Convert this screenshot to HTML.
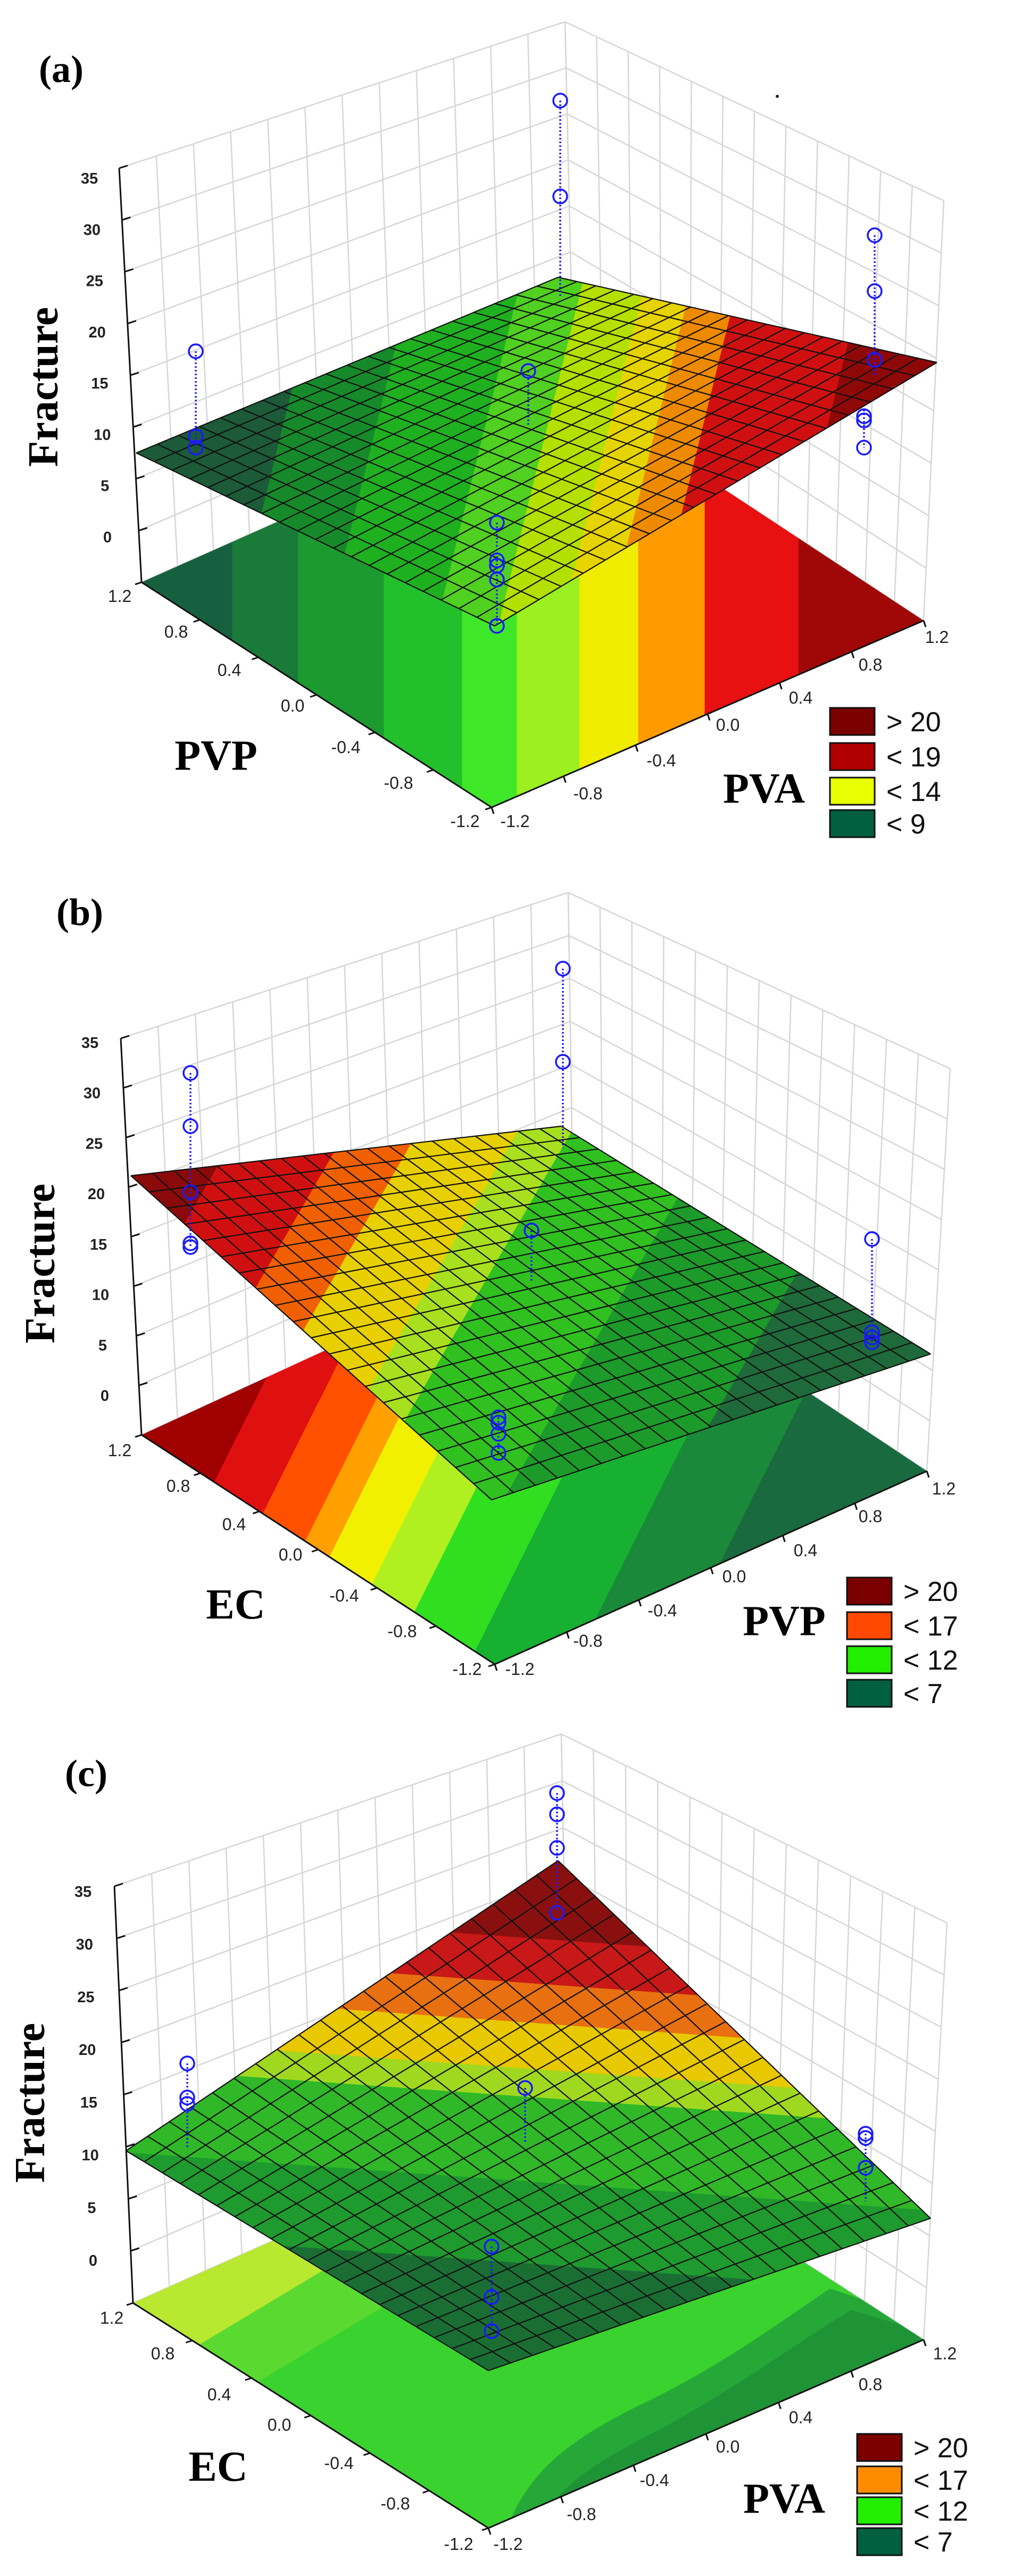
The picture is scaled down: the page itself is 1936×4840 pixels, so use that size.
<!DOCTYPE html>
<html><head><meta charset="utf-8">
<style>
html,body{margin:0;padding:0;background:#fff;}
svg{display:block;}
</style></head>
<body>
<svg id="s" width="1936" height="4840" xmlns="http://www.w3.org/2000/svg" font-family="Liberation Sans, sans-serif">
<rect width="1936" height="4840" fill="#fff"/>
</svg>
<script>
function L(a,b,t){return [a[0]+(b[0]-a[0])*t,a[1]+(b[1]-a[1])*t];}
var out=[];var gid=0;
function line(a,b,st){out.push('<line x1="'+a[0].toFixed(1)+'" y1="'+a[1].toFixed(1)+'" x2="'+b[0].toFixed(1)+'" y2="'+b[1].toFixed(1)+'" '+st+'/>');}
function poly(pts,fill,extra){out.push('<polygon points="'+pts.map(function(p){return p[0].toFixed(1)+','+p[1].toFixed(1);}).join(' ')+'" fill="'+fill+'" '+(extra||'')+'/>');}
function grad(p0,p1,bands){var id='g'+(gid++);var s='<linearGradient id="'+id+'" gradientUnits="userSpaceOnUse" x1="'+p0[0]+'" y1="'+p0[1]+'" x2="'+p1[0]+'" y2="'+p1[1]+'">';
bands.forEach(function(b){s+='<stop offset="'+b[0]+'" stop-color="'+b[2]+'"/><stop offset="'+b[1]+'" stop-color="'+b[2]+'"/>';});
s+='</linearGradient>';out.push(s);return 'url(#'+id+')';}
function text(x,y,t,sz,extra){out.push('<text x="'+x+'" y="'+y+'" font-size="'+sz+'" '+(extra||'')+'>'+t+'</text>');}

function panel(c){
 var Fl=c.L,Ff=c.F,Fr=c.R,Fb=[c.L[0]+c.R[0]-c.F[0],c.L[1]+c.R[1]-c.F[1]-10];
 var TL=c.TL,TB=c.TB,TR=c.TR;
 var gs='stroke="#d6d6d6" stroke-width="2.5"';
 for(var i=0;i<=12;i++){line(L(Fl,Fb,i/12),L(TL,TB,i/12),gs);}
 for(var k=0;k<=8;k++){line(L(Fl,TL,k/8),L(Fb,TB,k/8),gs);}
 for(var i=0;i<=12;i++){line(L(Fb,Fr,i/12),L(TB,TR,i/12),gs);}
 for(var k=0;k<=8;k++){line(L(Fb,TB,k/8),L(Fr,TR,k/8),gs);}
 out.push('<clipPath id="fc'+gid+'"><polygon points="'+[Fl,Ff,Fr,Fb].map(function(p){return p.join(',');}).join(' ')+'"/></clipPath>');
 var cid='fc'+gid;
 poly([Fl,Ff,Fr,Fb],c.floorFill);
 if(c.floorExtra){out.push('<g clip-path="url(#'+cid+')">');c.floorExtra();out.push('</g>');}
 line(Fl,TL,'stroke="#111" stroke-width="3"');
 for(var k=1;k<=8;k++){var p=L(Fl,TL,k/8);line(p,[p[0]+16,p[1]-5],'stroke="#111" stroke-width="3"');}
 line(Fl,Ff,'stroke="#111" stroke-width="3"');line(Ff,Fr,'stroke="#111" stroke-width="3"');
 for(var i=0;i<=6;i++){var p=L(Fl,Ff,i/6);line(p,[p[0]-12,p[1]+4],'stroke="#111" stroke-width="3"');
   var q=L(Ff,Fr,i/6);line(q,[q[0]+4,q[1]+12],'stroke="#111" stroke-width="3"');}
 var zl=['35','30','25','20','15','10','5','0'];
 for(var k=0;k<8;k++){var p=L(c.z35,c.z0,k/7);text(p[0],p[1]+10,zl[k],29,'text-anchor="middle" font-weight="bold" fill="#222"');}
 var S=c.S;
 poly([S[0],S[1],S[2],S[3]],c.surfFill);
 var n=20,ls='stroke="#111" stroke-width="2.2"';
 for(var i=0;i<=n;i++){line(L(S[0],S[3],i/n),L(S[1],S[2],i/n),ls);line(L(S[0],S[1],i/n),L(S[3],S[2],i/n),ls);}
 c.pts.forEach(function(col){
   var x=col[0],ys=col[1],ly=col[2];
   line([x,ly[0]],[x,ly[1]],'stroke="#1a1aff" stroke-width="3.5" stroke-dasharray="3,4"');
   ys.forEach(function(y){out.push('<ellipse cx="'+x+'" cy="'+y+'" rx="13" ry="13" fill="none" stroke="#1a1aff" stroke-width="3.5"/>');});
 });
 var vals=['1.2','0.8','0.4','0.0','-0.4','-0.8','-1.2'];
 c.lt.forEach(function(p,i){text(p[0],p[1]+11,vals[i],32,'text-anchor="middle" fill="#222"');});
 c.rt.forEach(function(p,i){text(p[0],p[1]+11,vals[6-i],32,'text-anchor="middle" fill="#222"');});
 text(c.lab[0],c.lab[1]+24,c.lab[2],72,'text-anchor="middle" font-family="Liberation Serif, serif" font-weight="bold"');
 text(c.t1[0],c.t1[1]+27,c.t1[2],80,'text-anchor="middle" font-family="Liberation Serif, serif" font-weight="bold"');
 text(c.t2[0],c.t2[1]+27,c.t2[2],80,'text-anchor="middle" font-family="Liberation Serif, serif" font-weight="bold"');
 out.push('<text transform="translate('+(c.fr[0]+27)+','+c.fr[1]+') rotate(-90)" font-size="80" text-anchor="middle" font-family="Liberation Serif, serif" font-weight="bold">Fracture</text>');
 c.leg.forEach(function(r){out.push('<rect x="'+c.legx+'" y="'+r[0]+'" width="84" height="51" fill="'+r[1]+'" stroke="#111" stroke-width="3"/>');
   text(c.legx+106,r[0]+44,r[2],52,'fill="#111"');});
}

panel({L:[266,1094],F:[924,1517],R:[1736,1166],TL:[224,316],TB:[1062,41],TR:[1774,377],
 z35:[168,335],z0:[202,1009],
 floorFill:grad([266,1130],[1736,1130],[[0,0.116,'#17603f'],[0.116,0.2,'#1a7a38'],[0.2,0.31,'#1c9a30'],[0.31,0.41,'#22c02a'],[0.41,0.48,'#3ee828'],[0.48,0.56,'#9cf020'],[0.56,0.635,'#f0ec00'],[0.635,0.72,'#ff9a00'],[0.72,0.84,'#e81010'],[0.84,1,'#a00808']]),
 S:[[256,851],[1049,521],[1761,681],[930,1176]],
 surfFill:grad([256,851],[1635,1190],[[0,0.18,'#1c5a38'],[0.18,0.30,'#168a2a'],[0.30,0.44,'#1fb020'],[0.44,0.52,'#50d020'],[0.52,0.60,'#b4e000'],[0.60,0.66,'#e6d400'],[0.66,0.72,'#ee8a00'],[0.72,0.88,'#d01010'],[0.88,1,'#8e0808']]),
 pts:[[368,[660,820,841],[660,841]],[1053,[189,369],[189,557]],[1644,[442,547,676],[442,706]],[1624,[782,790,841],[770,841]],[993,[697],[697,800]],[934,[982,1053,1063,1089,1176],[982,1176]]],
 lt:[[225,1120],[331,1187],[431,1259],[550,1326],[650,1404],[749,1471],[874,1543]],
 rt:[[968,1543],[1105,1491],[1243,1429],[1368,1362],[1505,1311],[1636,1249],[1761,1197]],
 lab:[115,130,'(a)'],t1:[406,1419,'PVP'],t2:[1436,1481,'PVA'],fr:[81,727],
 legx:1560,leg:[[1330,'#7a0000','&gt; 20'],[1396,'#b00000','&lt; 19'],[1461,'#e8ff00','&lt; 14'],[1522,'#006040','&lt; 9']]
});
panel({L:[266,2696],F:[930,3127],R:[1742,2764],TL:[227,1951],TB:[1068,1677],TR:[1786,2008],
 z35:[169,1959],z0:[197,2622],
 floorFill:grad([266,2696],[1473,3300],[[0,0.12,'#a00000'],[0.12,0.2,'#e01010'],[0.2,0.27,'#ff5000'],[0.27,0.31,'#ffa000'],[0.31,0.38,'#f0f000'],[0.38,0.45,'#b0f020'],[0.45,0.55,'#30e020'],[0.55,0.68,'#18b030'],[0.68,0.8,'#1a8a3a'],[0.8,1,'#1a6a40']]),
 S:[[246,2209],[1055,2116],[1749,2544],[924,2818]],
 surfFill:grad([246,2209],[1518,2944],[[0,0.09,'#8a0a0a'],[0.09,0.21,'#d01010'],[0.21,0.29,'#f06000'],[0.29,0.40,'#e8d000'],[0.40,0.46,'#a8e020'],[0.46,0.62,'#30c020'],[0.62,0.8,'#1c9a2a'],[0.8,1,'#1f6a3a']]),
 pts:[[358,[2016,2116,2240,2336,2343],[2016,2343]],[1058,[1820,1995],[1820,2157]],[999,[2312],[2312,2410]],[1639,[2328,2503,2513,2522],[2328,2522]],[937,[2663,2673,2694,2730],[2663,2730]]],
 lt:[[225,2725],[335,2792],[440,2864],[546,2921],[647,2998],[756,3065],[878,3136]],
 rt:[[977,3136],[1105,3083],[1245,3026],[1380,2962],[1514,2913],[1636,2849],[1774,2797]],
 lab:[150,1714,'(b)'],t1:[443,3014,'EC'],t2:[1474,3045,'PVP'],fr:[75,2374],
 legx:1592,leg:[[2964,'#7a0000','&gt; 20'],[3029,'#ff4800','&lt; 17'],[3093,'#22ee00','&lt; 12'],[3156,'#006040','&lt; 7']]
});
panel({L:[250,4327],F:[918,4750],R:[1736,4396],TL:[215,3544],TB:[1055,3258],TR:[1780,3613],
 z35:[156,3554],z0:[175,4247],
 floorFill:grad([600,4100],[900,4600],[[0,0.25,'#b8e830'],[0.25,0.45,'#5ada30'],[0.45,1,'#3ad22e']]),
 floorExtra:function(){
   out.push('<path d="M950,4760 C990,4640 1080,4580 1200,4520 C1350,4450 1470,4360 1560,4300 L1800,4380 L1800,4800 Z" fill="#26a838"/>');
   out.push('<path d="M1000,4760 C1040,4680 1110,4630 1230,4570 C1380,4490 1500,4400 1600,4340 L1800,4400 L1800,4800 Z" fill="#1f9436"/>');},
 S:[[237,4041],[1049,3496],[1749,4168],[918,4454]],
 surfFill:grad([1049,3496],[980,4454],[[0,0.155,'#8a1010'],[0.155,0.243,'#c81818'],[0.243,0.32,'#e87010'],[0.32,0.41,'#e8c800'],[0.41,0.465,'#a0d820'],[0.465,0.63,'#30b828'],[0.63,0.79,'#1e9a2e'],[0.79,1,'#1a6e34']]),
 pts:[[1047,[3369,3409,3472,3594],[3369,3594]],[352,[3877,3941,3953],[3877,4036]],[987,[3923],[3923,4025]],[1627,[4009,4017,4073],[4009,4136]],[924,[4221,4316,4380],[4221,4380]]],
 lt:[[210,4355],[306,4422],[412,4499],[525,4556],[637,4628],[743,4704],[862,4780]],
 rt:[[955,4780],[1093,4724],[1230,4660],[1368,4597],[1505,4542],[1636,4480],[1776,4422]],
 lab:[162,3332,'(c)'],t1:[410,4634,'EC'],t2:[1474,4694,'PVA'],fr:[56,3951],
 legx:1611,leg:[[4573,'#7a0000','&gt; 20'],[4634,'#ff8c00','&lt; 17'],[4692,'#22ee00','&lt; 12'],[4750,'#006040','&lt; 7']]
});
out.push('<circle cx="1461" cy="181" r="3" fill="#222"/>');
document.getElementById('s').insertAdjacentHTML('beforeend',out.join(''));
</script>
</body></html>
